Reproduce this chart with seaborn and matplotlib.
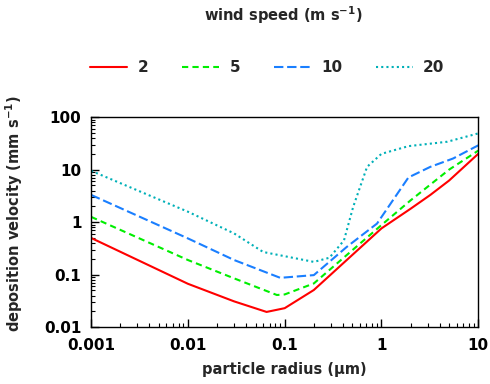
import matplotlib
matplotlib.use("Agg")
import matplotlib.pyplot as plt
import matplotlib.ticker as mticker
import pandas as pd
import seaborn as sns

# Valeurs (rayon en um, vitesse de depot en mm/s)
r_2 = [0.001, 0.01, 0.03, 0.065, 0.1, 0.2, 1, 2, 3.2, 5, 10]
v_2 = [0.5, 0.067, 0.031, 0.0195, 0.023, 0.051, 0.76, 1.8, 3.3, 6.2, 20]

r_5 = [0.001, 0.01, 0.03, 0.083, 0.1, 0.2, 1, 2, 5, 10]
v_5 = [1.26, 0.19, 0.085, 0.041, 0.042, 0.068, 0.88, 2.6, 10, 23]

r_10 = [0.001, 0.01, 0.03, 0.09, 0.2, 0.44, 0.9, 1.9, 3.2, 5.5, 10]
v_10 = [3.3, 0.49, 0.19, 0.087, 0.098, 0.34, 0.94, 7.1, 11.3, 16.3, 29]

r_20 = [0.001, 0.01, 0.03, 0.06, 0.2, 0.29, 0.41, 0.51, 0.71, 1, 1.9, 4.8, 10]
v_20 = [9.5, 1.58, 0.61, 0.27, 0.175, 0.21, 0.45, 1.95, 11.3, 20, 28, 34, 49]

wind_labels = ["2", "5", "10", "20"]
colors = ["#ff0000", "#00ee00", "#1a7fff", "#00b0b8"]
dashes = [(None, None), (3, 2), (4.5, 1.8), (1, 1.5)]

sns.set_style("white")
plt.rcParams["font.family"] = ["DejaVu Sans"]
plt.rcParams["font.weight"] = "bold"
plt.rcParams["mathtext.default"] = "bf"

fig = plt.figure(figsize=(4.9, 3.84), dpi=100)
ax = fig.add_axes([0.186, 0.148, 0.79, 0.547])

series = [(r_2, v_2), (r_5, v_5), (r_10, v_10), (r_20, v_20)]
for (r, v), lab, col, ds in zip(series, wind_labels, colors, dashes):
    df = pd.DataFrame({"radius": r, "velocity": v})
    sns.lineplot(data=df, x="radius", y="velocity", ax=ax,
                 color=col, linewidth=1.5, label=lab)
    l = ax.get_lines()[-1]
    if ds[0] is not None:
        l.set_dashes(ds)

ax.set_xscale("log")
ax.set_yscale("log")
ax.set_xlim(0.001, 10)
ax.set_ylim(0.01, 100)

fmt = mticker.FuncFormatter(lambda v, p: "{:g}".format(v))
ax.xaxis.set_major_formatter(fmt)
ax.yaxis.set_major_formatter(fmt)
ax.xaxis.set_minor_locator(mticker.LogLocator(base=10, subs=range(2, 10), numticks=20))
ax.yaxis.set_minor_locator(mticker.LogLocator(base=10, subs=range(2, 10), numticks=20))
ax.xaxis.set_minor_formatter(mticker.NullFormatter())
ax.yaxis.set_minor_formatter(mticker.NullFormatter())
ax.tick_params(which="both", direction="in", top=False, right=False,
               bottom=True, left=True, labelsize=11, colors="black")
ax.tick_params(which="major", length=6, width=1)
ax.tick_params(which="minor", length=3, width=0.8)
ax.tick_params(axis="x", which="major", pad=8)
ax.tick_params(axis="y", which="major", pad=7)
for lbl in ax.get_xticklabels() + ax.get_yticklabels():
    lbl.set_fontweight("bold")

for sp in ax.spines.values():
    sp.set_color("black")
    sp.set_linewidth(1)

ax.set_xlabel("particle radius (\u03bcm)", fontsize=10.5, fontweight="bold", labelpad=6)
ax.set_ylabel("deposition velocity (mm s$^{-1}$)", fontsize=10.5, fontweight="bold")
ax.yaxis.set_label_coords(-0.17, 0.54)

handles, labels = ax.get_legend_handles_labels()
ax.get_legend().remove()
fig.legend(handles, labels, loc="center", bbox_to_anchor=(0.546, 0.823),
           ncol=4, frameon=False, fontsize=11, handlelength=2.4,
           handletextpad=0.7, columnspacing=2.2)
fig.text(0.578, 0.961, "wind speed (m s$^{-1}$)", ha="center", va="center",
         fontsize=10.5, fontweight="bold")

fig.savefig("out.png", dpi=100)
